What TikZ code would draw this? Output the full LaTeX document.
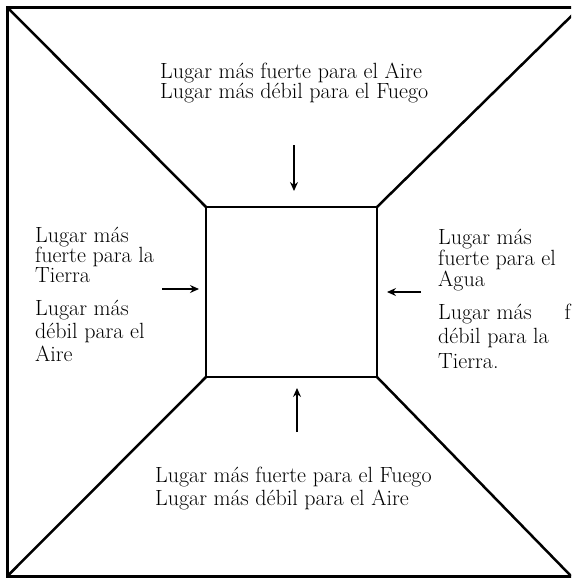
\documentclass[tikz,border=0pt]{standalone}
\usetikzlibrary{arrows.meta}
\begin{document}
\begin{tikzpicture}[x=1pt,y=-1pt,
  outer/.style={line width=3pt},
  diag/.style={line width=2.5pt},
  inner/.style={line width=2.5pt},
  arr/.style={line width=1.5pt,-{Stealth[length=9pt,width=8pt,inset=3pt]}},
  lbl/.style={inner sep=0pt,anchor=base west,align=left,font=\fontsize{22}{20}\selectfont}
]
\useasboundingbox (0,0) rectangle (571,579);
\clip (0,0) rectangle (571,579);
% outer square
\coordinate (OTL) at (7.5,7.5);
\coordinate (OTR) at (580,7.5);
\coordinate (OBR) at (571,576);
\coordinate (OBL) at (7.5,576);
\draw[outer] (7.5,7.5) rectangle (580,576);
% inner square
\coordinate (ITL) at (206,207);
\coordinate (ITR) at (377,207);
\coordinate (IBR) at (377,377);
\coordinate (IBL) at (206,377);
\draw[inner] (ITL) -- (ITR) -- (IBR) -- (IBL) -- cycle;
% diagonals
\draw[diag] (OTL) -- (ITL);
\draw[diag] (OTR) -- (ITR);
\draw[diag] (OBR) -- (IBR);
\draw[diag] (OBL) -- (IBL);
% texts (anchored at the baseline of the last line)
\node[lbl,font=\fontsize{22}{20}\selectfont] (top) at (160,98)
  {Lugar más fuerte para el Aire\\Lugar más débil para el Fuego};
\node[lbl,font=\fontsize{22}{23}\selectfont] (bot) at (155,505)
  {Lugar más fuerte para el Fuego\\Lugar más débil para el Aire};
\node[lbl] (l1) at (35,282) {Lugar más\\fuerte para la\\Tierra};
\node[lbl,font=\fontsize{22}{23}\selectfont] (l2) at (35,361) {Lugar más\\débil para el\\Aire};
\node[lbl,font=\fontsize{22}{19}\selectfont] (r1) at (438,286) {Lugar más\\fuerte para el\\Agua};
\node[lbl,font=\fontsize{22}{24.5}\selectfont] (r2) at (438,368) {Lugar más\hspace{33pt}f\\débil para la\\Tierra.};
% arrows
\coordinate (ta) at (294,145); \coordinate (tb) at (294,191);
\coordinate (la) at (162,289); \coordinate (lb) at (199,289);
\coordinate (ra) at (421,292); \coordinate (rb) at (387,292);
\coordinate (ba) at (297,432); \coordinate (bb) at (297,388);
\draw[arr] (ta) -- (tb);
\draw[arr] (la) -- (lb);
\draw[arr] (ra) -- (rb);
\draw[arr] (ba) -- (bb);
\end{tikzpicture}
\end{document}
